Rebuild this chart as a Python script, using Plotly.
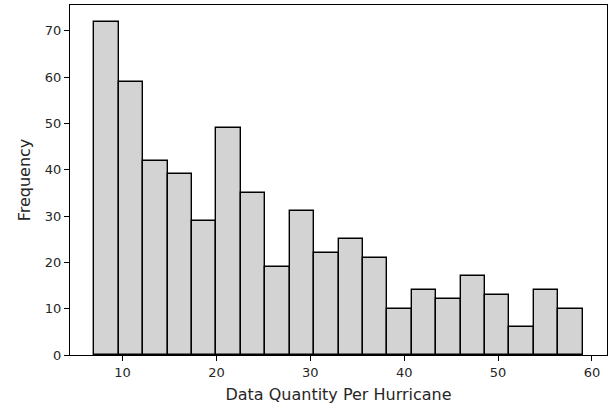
import numpy as np
import plotly.graph_objects as go

bin_start = 7
bin_end = 59
counts = [72, 59, 42, 39, 29, 49, 35, 19, 31, 22, 25, 21, 10, 14, 12, 17, 13, 6, 14, 10]
x_ticks = [10, 20, 30, 40, 50, 60]
y_ticks = [0, 10, 20, 30, 40, 50, 60, 70]

edges = np.linspace(bin_start, bin_end, len(counts) + 1)
centers = (edges[:-1] + edges[1:]) / 2
width = edges[1] - edges[0]

fig = go.Figure(go.Bar(
    x=centers, y=counts, width=width,
    marker=dict(color="#d3d3d3", line=dict(color="black", width=1.4)),
))

span = bin_end - bin_start
fig.update_layout(
    width=610, height=408,
    margin=dict(l=70, r=3, t=5, b=53),
    paper_bgcolor="white", plot_bgcolor="white",
    font=dict(family="DejaVu Sans", size=13, color="#262626"),
    showlegend=False,
    bargap=0,
)
fig.update_xaxes(
    range=[bin_start - 0.05 * span, bin_end + 0.05 * span],
    tickvals=x_ticks, ticks="outside", ticklen=5, tickcolor="black",
    showline=True, linecolor="black", linewidth=1, mirror=True,
    showgrid=False, zeroline=False,
    title=dict(text="Data Quantity Per Hurricane", standoff=10),
)
fig.update_yaxes(
    range=[0, max(counts) * 1.05],
    tickvals=y_ticks, ticks="outside", ticklen=5, tickcolor="black",
    showline=True, linecolor="black", linewidth=1, mirror=True,
    showgrid=False, zeroline=False,
    title=dict(text="Frequency", standoff=10),
)
fig.write_html("out.html", config={"displayModeBar": False},
               post_script="document.body.style.margin='0';")
